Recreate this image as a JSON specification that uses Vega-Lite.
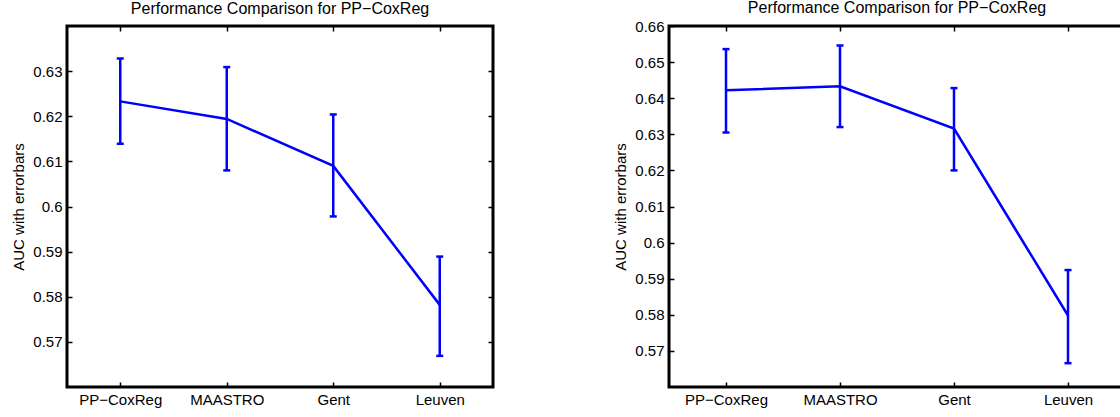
{
  "$schema": "https://vega.github.io/schema/vega-lite/v6.json",
  "padding": {"left": 10, "top": -2, "right": 0, "bottom": 0},
  "spacing": 116,
  "datasets": {
    "left": [
      {"site": "PP−CoxReg", "mean": 0.6233, "lo": 0.6139, "hi": 0.6328},
      {"site": "MAASTRO", "mean": 0.6194, "lo": 0.6080, "hi": 0.6309},
      {"site": "Gent", "mean": 0.6090, "lo": 0.5978, "hi": 0.6204},
      {"site": "Leuven", "mean": 0.5782, "lo": 0.5669, "hi": 0.5889}
    ],
    "right": [
      {"site": "PP−CoxReg", "mean": 0.6422, "lo": 0.6305, "hi": 0.6536},
      {"site": "MAASTRO", "mean": 0.6433, "lo": 0.6320, "hi": 0.6546},
      {"site": "Gent", "mean": 0.6316, "lo": 0.6200, "hi": 0.6428},
      {"site": "Leuven", "mean": 0.5798, "lo": 0.5666, "hi": 0.5924}
    ]
  },
  "config": {
    "font": "Liberation Sans",
    "view": {"stroke": "black", "strokeWidth": 3},
    "axis": {
      "labelFont": "Liberation Sans", "labelFontSize": 15, "labelColor": "black",
      "titleFont": "Liberation Sans", "titleFontSize": 15, "titleFontWeight": "normal", "titleColor": "black",
      "tickColor": "black", "tickSize": -5, "tickWidth": 1.5, "domain": false, "grid": false,
      "labelPadding": 10, "titlePadding": 6
    },
    "title": {"font": "Liberation Sans", "fontSize": 16, "fontWeight": "normal", "color": "black"}
  },
  "hconcat": [
    {
      "width": 426, "height": 361,
      "title": {"text": "Performance Comparison for PP−CoxReg", "offset": 8},
      "data": {"name": "left"},
      "layer": [
        {
          "mark": {"type": "rule", "color": "#0000ff", "strokeWidth": 2.5},
          "encoding": {
            "x": {"field": "site", "type": "nominal", "sort": null, "scale": {"type": "point", "padding": 0.5}, "axis": {"orient": "bottom", "title": null, "labelAngle": 0}},
            "y": {"field": "lo", "type": "quantitative", "scale": {"domain": [0.56, 0.64], "nice": false, "zero": false}, "axis": {"orient": "left", "title": "AUC with errorbars", "values": [0.57, 0.58, 0.59, 0.6, 0.61, 0.62, 0.63], "format": ".2~f"}},
            "y2": {"field": "hi"}
          }
        },
        {
          "mark": {"type": "tick", "color": "#0000ff", "size": 7, "thickness": 2.5, "opacity": 1},
          "encoding": {
            "x": {"field": "site", "type": "nominal", "sort": null, "axis": null},
            "y": {"field": "lo", "type": "quantitative", "axis": null}
          }
        },
        {
          "mark": {"type": "tick", "color": "#0000ff", "size": 7, "thickness": 2.5, "opacity": 1},
          "encoding": {
            "x": {"field": "site", "type": "nominal", "sort": null, "axis": null},
            "y": {"field": "hi", "type": "quantitative", "axis": null}
          }
        },
        {
          "mark": {"type": "line", "color": "#0000ff", "strokeWidth": 2.5},
          "encoding": {
            "x": {"field": "site", "type": "nominal", "sort": null, "axis": {"orient": "top", "labels": false, "title": null}},
            "y": {"field": "mean", "type": "quantitative", "axis": {"orient": "right", "labels": false, "title": null, "values": [0.57, 0.58, 0.59, 0.6, 0.61, 0.62, 0.63]}}
          }
        }
      ],
      "resolve": {"axis": {"x": "independent", "y": "independent"}}
    },
    {
      "width": 456, "height": 361,
      "title": {"text": "Performance Comparison for PP−CoxReg", "offset": 8, "dy": 5},
      "data": {"name": "right"},
      "layer": [
        {
          "mark": {"type": "rule", "color": "#0000ff", "strokeWidth": 2.5},
          "encoding": {
            "x": {"field": "site", "type": "nominal", "sort": null, "scale": {"type": "point", "padding": 0.5}, "axis": {"orient": "bottom", "title": null, "labelAngle": 0}},
            "y": {"field": "lo", "type": "quantitative", "scale": {"domain": [0.56, 0.66], "nice": false, "zero": false}, "axis": {"orient": "left", "title": "AUC with errorbars", "values": [0.57, 0.58, 0.59, 0.6, 0.61, 0.62, 0.63, 0.64, 0.65, 0.66], "format": ".2~f"}},
            "y2": {"field": "hi"}
          }
        },
        {
          "mark": {"type": "tick", "color": "#0000ff", "size": 7, "thickness": 2.5, "opacity": 1},
          "encoding": {
            "x": {"field": "site", "type": "nominal", "sort": null, "axis": null},
            "y": {"field": "lo", "type": "quantitative", "axis": null}
          }
        },
        {
          "mark": {"type": "tick", "color": "#0000ff", "size": 7, "thickness": 2.5, "opacity": 1},
          "encoding": {
            "x": {"field": "site", "type": "nominal", "sort": null, "axis": null},
            "y": {"field": "hi", "type": "quantitative", "axis": null}
          }
        },
        {
          "mark": {"type": "line", "color": "#0000ff", "strokeWidth": 2.5},
          "encoding": {
            "x": {"field": "site", "type": "nominal", "sort": null, "axis": {"orient": "top", "labels": false, "title": null}},
            "y": {"field": "mean", "type": "quantitative", "axis": {"orient": "right", "labels": false, "title": null, "values": [0.57, 0.58, 0.59, 0.6, 0.61, 0.62, 0.63, 0.64, 0.65]}}
          }
        }
      ],
      "resolve": {"axis": {"x": "independent", "y": "independent"}}
    }
  ]
}
